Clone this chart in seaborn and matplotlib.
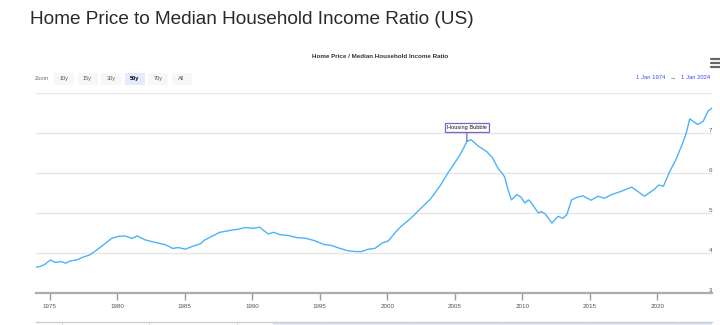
import matplotlib
matplotlib.use("Agg")
import matplotlib.pyplot as plt
from matplotlib.patches import Rectangle
import seaborn as sns
import pandas as pd

# Home price / median household income ratio, sampled through the series
years = [
    1974.0, 1974.3, 1974.6, 1975.07, 1975.44, 1975.9, 1976.2, 1976.55, 1977.0, 1977.4,
    1978.0, 1978.65, 1979.0, 1979.6, 1980.1, 1980.6, 1981.1, 1981.5, 1982.1, 1982.8,
    1983.6, 1984.1, 1984.55, 1985.05, 1985.66, 1986.15, 1986.5, 1986.9, 1987.6, 1988.4,
    1989.0, 1989.5, 1990.1, 1990.54, 1990.8, 1991.2, 1991.6, 1992.1, 1992.7, 1993.3,
    1994.0, 1994.65, 1995.3, 1995.9, 1996.5, 1997.1, 1997.7, 1998.1, 1998.6, 1999.1,
    1999.6, 2000.1, 2000.6, 2001.0, 2001.5, 2001.9, 2002.5, 2003.2, 2003.9, 2004.5,
    2005.0, 2005.4, 2005.75, 2005.9, 2006.2, 2006.36, 2006.7, 2007.35, 2007.8, 2008.2,
    2008.5, 2008.7, 2008.95, 2009.2, 2009.6, 2009.9, 2010.2, 2010.45, 2010.6, 2011.2,
    2011.4, 2011.7, 2012.2, 2012.65, 2013.0, 2013.3, 2013.65, 2014.1, 2014.5, 2015.1,
    2015.6, 2016.1, 2016.6, 2017.3, 2018.1, 2019.05, 2019.8, 2020.1, 2020.45, 2020.9,
    2021.4, 2021.85, 2022.15, 2022.4, 2022.65, 2023.0, 2023.4, 2023.75, 2024.05,
]
ratio = [
    3.65, 3.67, 3.71, 3.83, 3.77, 3.79, 3.75, 3.81, 3.83, 3.89,
    3.96, 4.12, 4.21, 4.37, 4.42, 4.43, 4.37, 4.43, 4.33, 4.27,
    4.21, 4.12, 4.14, 4.10, 4.18, 4.23, 4.33, 4.40, 4.52, 4.57,
    4.60, 4.64, 4.62, 4.65, 4.58, 4.48, 4.52, 4.46, 4.44, 4.39,
    4.37, 4.31, 4.22, 4.19, 4.12, 4.06, 4.04, 4.04, 4.10, 4.12,
    4.25, 4.31, 4.52, 4.66, 4.80, 4.92, 5.12, 5.35, 5.67, 6.00,
    6.25, 6.46, 6.68, 6.79, 6.83, 6.79, 6.68, 6.54, 6.38, 6.12,
    6.00, 5.90, 5.58, 5.33, 5.46, 5.40, 5.25, 5.33, 5.29, 5.00,
    5.04, 4.98, 4.75, 4.92, 4.87, 4.96, 5.33, 5.40, 5.43, 5.32,
    5.42, 5.37, 5.46, 5.54, 5.65, 5.42, 5.60, 5.70, 5.67, 6.02,
    6.35, 6.72, 7.00, 7.35, 7.29, 7.21, 7.29, 7.54, 7.62,
]

x_ticks = [1975, 1980, 1985, 1990, 1995, 2000, 2005, 2010, 2015, 2020]
y_ticks = [3, 4, 5, 6, 7, 8]
y_tick_labels = ["3", "4", "5", "6", "7", ""]
zoom_buttons = ["10y", "15y", "30y", "50y", "70y", "All"]
selected_button = "50y"
flag_year = 2005.9
flag_text = "Housing Bubble"

df = pd.DataFrame({"year": years, "ratio": ratio})

sns.set_theme(style="white")
plt.rcParams["font.family"] = ["Liberation Sans", "DejaVu Sans"]

W, H = 720, 325
fig = plt.figure(figsize=(W / 100, H / 100), dpi=100)
fig.patch.set_facecolor("white")


def fx(x):
    return x / W


def fy(y):
    return 1 - y / H


ax = fig.add_axes([fx(36), fy(293.3), fx(712) - fx(36), fy(92.8) - fy(293.3)])
sns.lineplot(data=df, x="year", y="ratio", ax=ax, color="#4ab4fa", linewidth=1.0)

ax.set_xlim(1974.0, 2024.05)
ax.set_ylim(3, 8)
ax.set_xlabel("")
ax.set_ylabel("")

# horizontal grid only
ax.set_yticks(y_ticks)
ax.set_yticklabels(y_tick_labels)
ax.yaxis.set_ticks_position("right")
ax.grid(axis="y", color="#e6e6e6", linewidth=1)
ax.grid(axis="x", visible=False)
ax.tick_params(axis="y", length=0, pad=-2.4, labelsize=4.5, labelcolor="#555555")
for lbl in ax.get_yticklabels():
    lbl.set_va("bottom")
    lbl.set_ha("left")

ax.set_xticks(x_ticks)
ax.set_xticklabels([str(t) for t in x_ticks])
ax.tick_params(axis="x", direction="out", length=5, width=1, color="#999999",
               labelsize=4.5, labelcolor="#555555", pad=3, bottom=True)

for side in ["top", "left", "right"]:
    ax.spines[side].set_visible(False)
ax.spines["bottom"].set_color("#acacac")
ax.spines["bottom"].set_linewidth(1.6)

# flag on the bubble peak
i = years.index(flag_year)
ax.annotate(flag_text, xy=(years[i], ratio[i]), xytext=(0, 14), textcoords="offset pixels",
            ha="center", va="center", fontsize=4.1, color="#111111",
            bbox=dict(boxstyle="square,pad=0.35", fc="white", ec="#7466cc", lw=0.9),
            arrowprops=dict(arrowstyle="-", color="#7466cc", lw=0.9, shrinkA=0, shrinkB=0))

# page title and chart title
fig.text(fx(30), fy(19), "Home Price to Median Household Income Ratio (US)",
         fontsize=13.7, color="#2a2a2a", ha="left", va="center")
fig.text(fx(380.5), fy(56), "Home Price / Median Household Income Ratio",
         fontsize=4.5, fontweight="bold", color="#333333", ha="center", va="center")

# range selector buttons
fig.text(fx(35), fy(78.5), "Zoom", fontsize=4, color="#666666", ha="left", va="center")
bx = [54, 77.5, 101, 124.5, 148, 171.5]
for x0, lab in zip(bx, zoom_buttons):
    sel = lab == selected_button
    fig.patches.append(Rectangle((fx(x0), fy(85)), fx(20), fy(72.5) - fy(85),
                                 transform=fig.transFigure, facecolor="#e6e9ff" if sel else "#f7f7f7",
                                 edgecolor="none", zorder=0))
    fig.text(fx(x0 + 10), fy(78.8), lab, fontsize=4, color="#000000" if sel else "#555555",
             fontweight="bold" if sel else "normal", ha="center", va="center")

# date range display
fig.text(fx(650.5), fy(77.7), "1 Jan 1974", fontsize=4.2, color="#3d4cf5", ha="center", va="center")
fig.text(fx(673), fy(77.7), "\u2192", fontsize=4.2, color="#666666", ha="center", va="center")
fig.text(fx(696), fy(77.7), "1 Jan 2024", fontsize=4.2, color="#3d4cf5", ha="center", va="center")

# menu icon
for yy in (58.5, 62.5, 66.5):
    fig.lines.append(plt.Line2D([fx(711), fx(719.5)], [fy(yy), fy(yy)], transform=fig.transFigure,
                                color="#666666", linewidth=1.6))

# navigator strip along the bottom
fig.patches.append(Rectangle((fx(273), fy(325)), fx(712) - fx(273), fy(322) - fy(325),
                             transform=fig.transFigure, facecolor="#dfe4fa", edgecolor="none"))
fig.lines.append(plt.Line2D([fx(36), fx(712)], [fy(322.3), fy(322.3)], transform=fig.transFigure,
                            color="#cccccc", linewidth=1))
for sx in (61.7, 149.3, 237.3, 325.3, 413.3, 501.7, 589.3, 677.7):
    fig.lines.append(plt.Line2D([fx(sx), fx(sx)], [fy(322.3), fy(325)], transform=fig.transFigure,
                                color="#dddddd", linewidth=0.8))

fig.savefig("out.png", dpi=100)
